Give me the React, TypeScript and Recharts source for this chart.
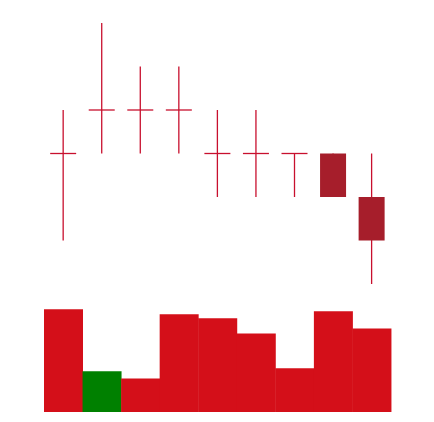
import { ComposedChart, Bar, XAxis, YAxis, Cell } from 'recharts';

const days = ['D1', 'D2', 'D3', 'D4', 'D5', 'D6', 'D7', 'D8', 'D9'];
const opens = [13, 14, 14, 14, 13, 13, 13, 13, 12];
const closes = [13, 14, 14, 14, 13, 13, 13, 12, 11];
const highs = [14, 16, 15, 15, 14, 14, 13, 13, 13];
const lows = [11, 13, 13, 13, 12, 12, 12, 12, 10];
const volumes = [1010, 400, 330, 960, 920, 770, 430, 990, 820];
const volumeUp = [false, true, false, false, false, false, false, false, false];

const candles = days.map((d, i) => ({
  day: d,
  open: opens[i],
  close: closes[i],
  high: highs[i],
  low: lows[i],
  range: [lows[i], highs[i]],
}));

const volData = days.map((d, i) => ({ day: d, volume: volumes[i] }));

const WICK = '#c8102e';
const BODY = '#a61e2b';

function Candle(props: any) {
  const { x, y, width, height, payload } = props;
  const { open, close, high, low } = payload;
  const span = high - low || 1;
  const toY = (v: number) => y + ((high - v) / span) * height;
  const cx = x + width / 2;
  const top = toY(Math.max(open, close));
  const bot = toY(Math.min(open, close));
  return (
    <g>
      <line x1={cx} x2={cx} y1={y} y2={y + height} stroke={WICK} strokeWidth={1.3} />
      {bot - top < 1 ? (
        <line x1={x} x2={x + width} y1={top} y2={top} stroke={WICK} strokeWidth={1.3} />
      ) : (
        <rect x={x} y={top} width={width} height={bot - top} fill={BODY} />
      )}
    </g>
  );
}

export default function App() {
  return (
    <div style={{ position: 'absolute', left: 0, top: 0, width: 434, height: 422, background: '#fff' }}>
      <div style={{ position: 'absolute', left: 0, top: 0 }}>
        <ComposedChart
          width={434}
          height={300}
          data={candles}
          margin={{ top: 23, right: 43, bottom: 16, left: 44 }}
          barCategoryGap="16%"
        >
          <XAxis dataKey="day" hide />
          <YAxis domain={[10, 16]} hide />
          <Bar dataKey="range" shape={<Candle />} isAnimationActive={false} />
        </ComposedChart>
      </div>
      <div style={{ position: 'absolute', left: 0, top: 300 }}>
        <ComposedChart
          width={434}
          height={112}
          data={volData}
          margin={{ top: 0, right: 43, bottom: 0, left: 44 }}
          barCategoryGap={0}
        >
          <XAxis dataKey="day" hide />
          <YAxis domain={[0, 1100]} hide />
          <Bar dataKey="volume" isAnimationActive={false}>
            {volData.map((_, i) => (
              <Cell key={i} fill={volumeUp[i] ? '#008000' : '#d40f19'} />
            ))}
          </Bar>
        </ComposedChart>
      </div>
    </div>
  );
}
